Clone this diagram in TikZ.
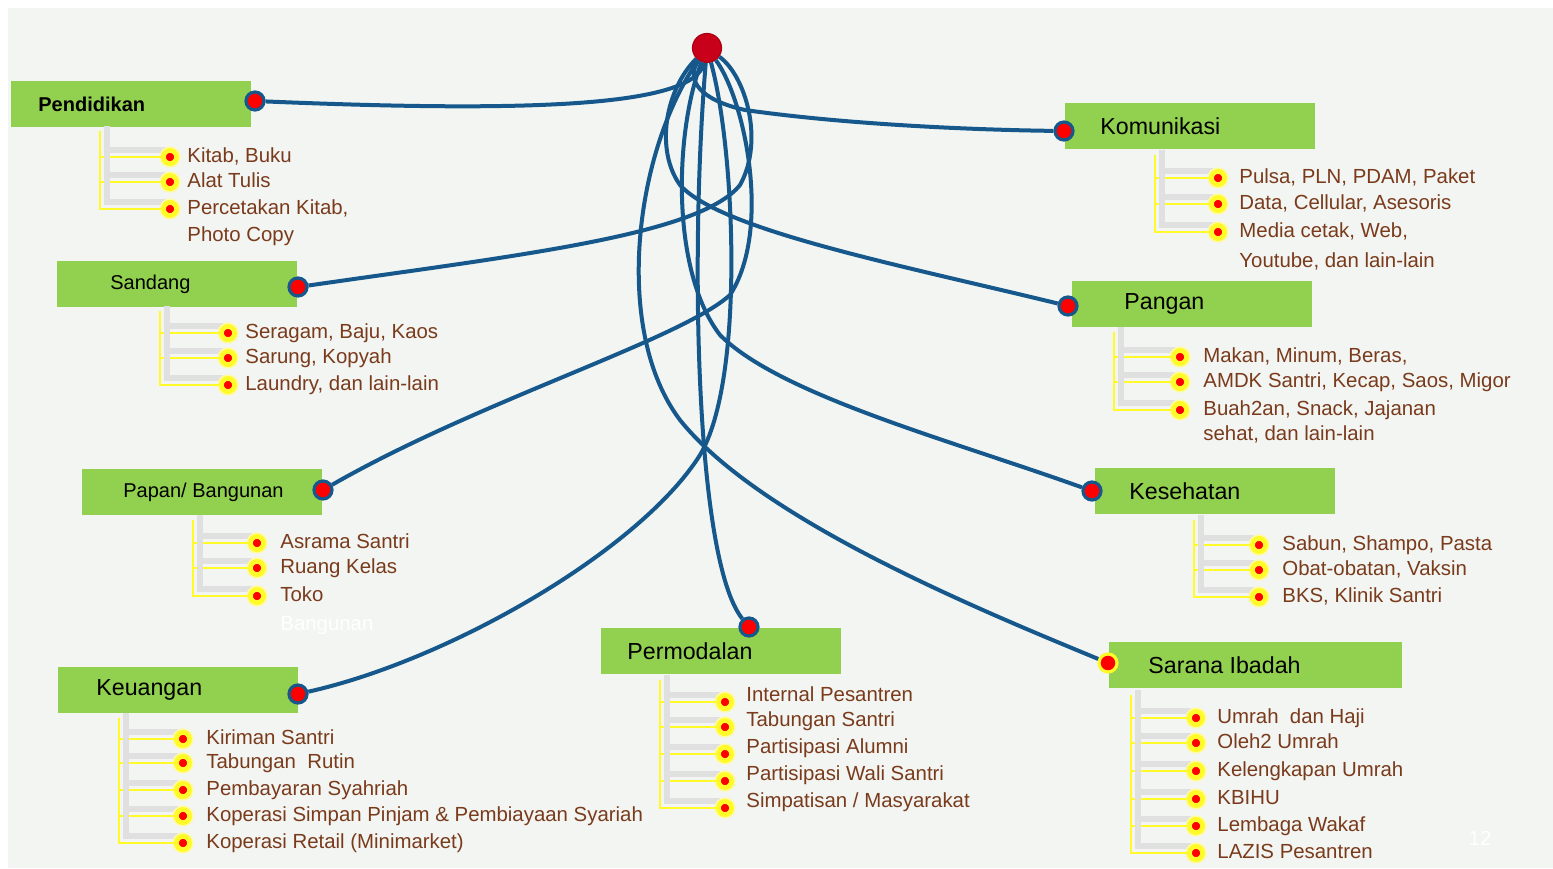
\documentclass[tikz,border=0pt]{standalone}
\usepackage{fontspec}
\setmainfont{Liberation Sans}
\usetikzlibrary{positioning}

\definecolor{boxgreen}{RGB}{146,208,80}
\definecolor{linkblue}{RGB}{22,88,140}
\definecolor{hubred}{RGB}{200,0,26}
\definecolor{itembrown}{RGB}{122,58,28}
\definecolor{bggray}{RGB}{242,245,241}
\definecolor{twigyellow}{RGB}{255,250,40}

\tikzset{
  catbox/.style={fill=boxgreen, anchor=north west, minimum width=120pt, minimum height=23pt, inner sep=0pt},
  catlabel/.style={font=\fontsize{11.6}{14}\selectfont, text=black, inner sep=0pt},
  hub/.style={circle, fill=hubred, draw=hubred!85!black, line width=0.6pt, minimum size=14.5pt, inner sep=0pt},
  linkdot/.style={circle, fill=red, draw=linkblue, line width=1.6pt, minimum size=9pt, inner sep=0pt},
  bullet/.style={circle, fill=red, draw=twigyellow, line width=2.4pt, minimum size=6.6pt, inner sep=0pt,
    preaction={draw=yellow!35, line width=4pt}},
  item/.style={font=\fontsize{10.2}{12}\selectfont, text=itembrown, inner sep=0pt, text height=7.5pt, text depth=2pt},
  twig/.style={draw=twigyellow, line width=1.3pt},
  twigshade/.style={draw=black!12, line width=2.6pt},
  link/.style={draw=linkblue, line width=2pt}
}

% #1 name, #2 trunk x, #3 trunk top, #4 bullet x, #5 y/text list, #6 text options
\newcommand{\twigs}[6]{%
  \coordinate (#1v) at (#2,#3);
  \foreach \yy/\txt [count=\i] in {#5} {
    \draw[twigshade] (#2+7,#3-5) -- (#2+7,\yy-7) -- (#4-5,\yy-7);
    \node[bullet] (#1\i) at (#4,\yy) {};
    \node[item, right=4pt of #1\i, #6] (#1t\i) {\txt};
    \draw[twig] (#1v |- #1\i) -- (#1\i);
    \xdef\lastbullet{#1\i}
  }
  \draw[twig] (#1v) |- (\lastbullet);
}

\begin{document}
\begin{tikzpicture}[x=0.5pt, y=-0.5pt]
  % Canvas
  \useasboundingbox (0,0) rectangle (1553,868);
  \fill[white] (0,0) rectangle (1553,868);
  \fill[bggray] (8,8) rectangle (1553,868);

  % Category boxes
  \node[catbox] (pend) at (11,81) {};
  \node[catbox, minimum width=125pt] (komu) at (1065,103) {};
  \node[catbox] (sand) at (57,261) {};
  \node[catbox] (pang) at (1072,281) {};
  \node[catbox] (papn) at (82,469) {};
  \node[catbox] (kese) at (1095,468) {};
  \node[catbox] (keua) at (58,667) {};
  \node[catbox] (perm) at (601,628) {};
  \node[catbox, minimum width=146.5pt] (sara) at (1109,642) {};

  % Labels
  \node[catlabel, font=\bfseries\fontsize{10}{12}\selectfont, right=13.5pt of pend.west] (pendl) {Pendidikan};
  \node[catlabel, right=17.5pt of komu.west] (komul) {Komunikasi};
  \node[catlabel, font=\fontsize{10}{12}\selectfont, right=26.5pt of sand.west] (sandl) {Sandang};
  \node[catlabel, right=26pt of pang.west] (pangl) {Pangan};
  \node[catlabel, font=\fontsize{10}{12}\selectfont, right=20.5pt of papn.west] (papnl) {Papan/ Bangunan};
  \node[catlabel, right=17pt of kese.west] (kesel) {Kesehatan};
  \node[catlabel, right=19pt of keua.west] (keual) {Keuangan};
  \node[catlabel, right=13pt of perm.west] (perml) {Permodalan};
  \node[catlabel, right=19.5pt of sara.west] (saral) {Sarana Ibadah};

  % Hub and link ends
  \node[hub] (hub) at (707,48) {};
  \node[linkdot] (pendd) at (255,101) {};
  \node[linkdot] (komud) at (1064,131) {};
  \node[linkdot] (sandd) at (298,287) {};
  \node[linkdot] (pangd) at (1068,306) {};
  \node[linkdot] (papnd) at (323,490) {};
  \node[linkdot] (kesed) at (1092,491) {};
  \node[linkdot] (keuad) at (298,694) {};
  \node[linkdot] (permd) at (749,627) {};
  \node[linkdot, draw=twigyellow] (sarad) at (1108,663) {};

  % Links
  \draw[link] (hub) .. controls (695,108) and (520,112) .. (pendd);
  \draw[link] (hub) .. controls (685,80) and (700,100) .. (745,110) .. controls (850,125) and (980,130) .. (komud);
  \draw[link] (hub) .. controls (745,75) and (765,140) .. (740,185) .. controls (700,235) and (520,255) .. (sandd);
  \draw[link] (hub) .. controls (665,90) and (655,150) .. (680,185) .. controls (720,230) and (900,265) .. (pangd);
  \draw[link] (hub) .. controls (745,100) and (772,230) .. (730,295) .. controls (680,340) and (480,400) .. (papnd);
  \draw[link] (hub) .. controls (675,130) and (670,270) .. (720,335) .. controls (780,395) and (950,440) .. (kesed);
  \draw[link] (hub) .. controls (690,250) and (695,560) .. (permd);
  \draw[link] (hub) .. controls (735,150) and (745,380) .. (700,455) .. controls (640,550) and (450,660) .. (keuad);
  \draw[link] (hub) .. controls (635,150) and (612,330) .. (680,420) .. controls (760,520) and (980,610) .. (sarad);

  % Items
  \twigs{pend}{100}{131}{170}{157/{Kitab, Buku}, 182/{Alat Tulis}, 209/{Percetakan Kitab,}}{}
  \twigs{sand}{160}{311}{228}{333/{Seragam, Baju, Kaos}, 358/{Sarung, Kopyah}, 385/{Laundry, dan lain-lain}}{}
  \twigs{papn}{193}{520}{257}{543/{Asrama Santri}, 568/{Ruang Kelas}, 596/{Toko}}{xshift=3pt}
  \twigs{keua}{119}{718}{183}{739/{Kiriman Santri}, 763/{Tabungan\ \ Rutin}, 790/{Pembayaran Syahriah}, 816/{Koperasi Simpan Pinjam \& Pembiayaan Syariah}, 843/{Koperasi Retail (Minimarket)}}{xshift=3pt}
  \twigs{perm}{660}{680}{725}{702/{Internal Pesantren}, 727/{Tabungan Santri}, 754/{Partisipasi Alumni}, 781/{Partisipasi Wali Santri}, 808/{Simpatisan / Masyarakat}}{xshift=2pt, yshift=3pt}
  \twigs{komu}{1155}{155}{1218}{178/{Pulsa, PLN, PDAM, Paket}, 204/{Data, Cellular, Asesoris}, 232/{Media cetak, Web,}}{xshift=2pt}
  \twigs{pang}{1114}{332}{1180}{357/{Makan,\ Minum,\ Beras,}, 382/{AMDK Santri, Kecap, Saos, Migor}, 410/{Buah2an, Snack, Jajanan}}{xshift=3pt}
  \twigs{kese}{1194}{520}{1259}{545/{Sabun, Shampo, Pasta}, 570/{Obat-obatan, Vaksin}, 597/{BKS, Klinik Santri}}{xshift=3pt}
  \twigs{sara}{1131}{695}{1196}{718/{Umrah\ \ dan Haji}, 743/{Oleh2 Umrah}, 771/{Kelengkapan Umrah}, 799/{KBIHU}, 826/{Lembaga Wakaf}, 853/{LAZIS Pesantren}}{xshift=2pt}

  % Second lines
  \node[item, anchor=north west, yshift=-3.5pt] (pendt4) at (pendt3.south west) {Photo Copy};
  \node[item, anchor=north west, yshift=-5pt] (komut4) at (komut3.south west) {Youtube, dan lain-lain};
  \node[item, anchor=north west, yshift=-2.5pt] (pangt4) at (pangt3.south west) {sehat, dan lain-lain};
  \node[item, text=white, anchor=north west, yshift=-4.5pt] (papnt4) at (papnt3.south west) {Bangunan};
  \node[item, text=white] (pageno) at (1480,840) {12};
\end{tikzpicture}
\end{document}
